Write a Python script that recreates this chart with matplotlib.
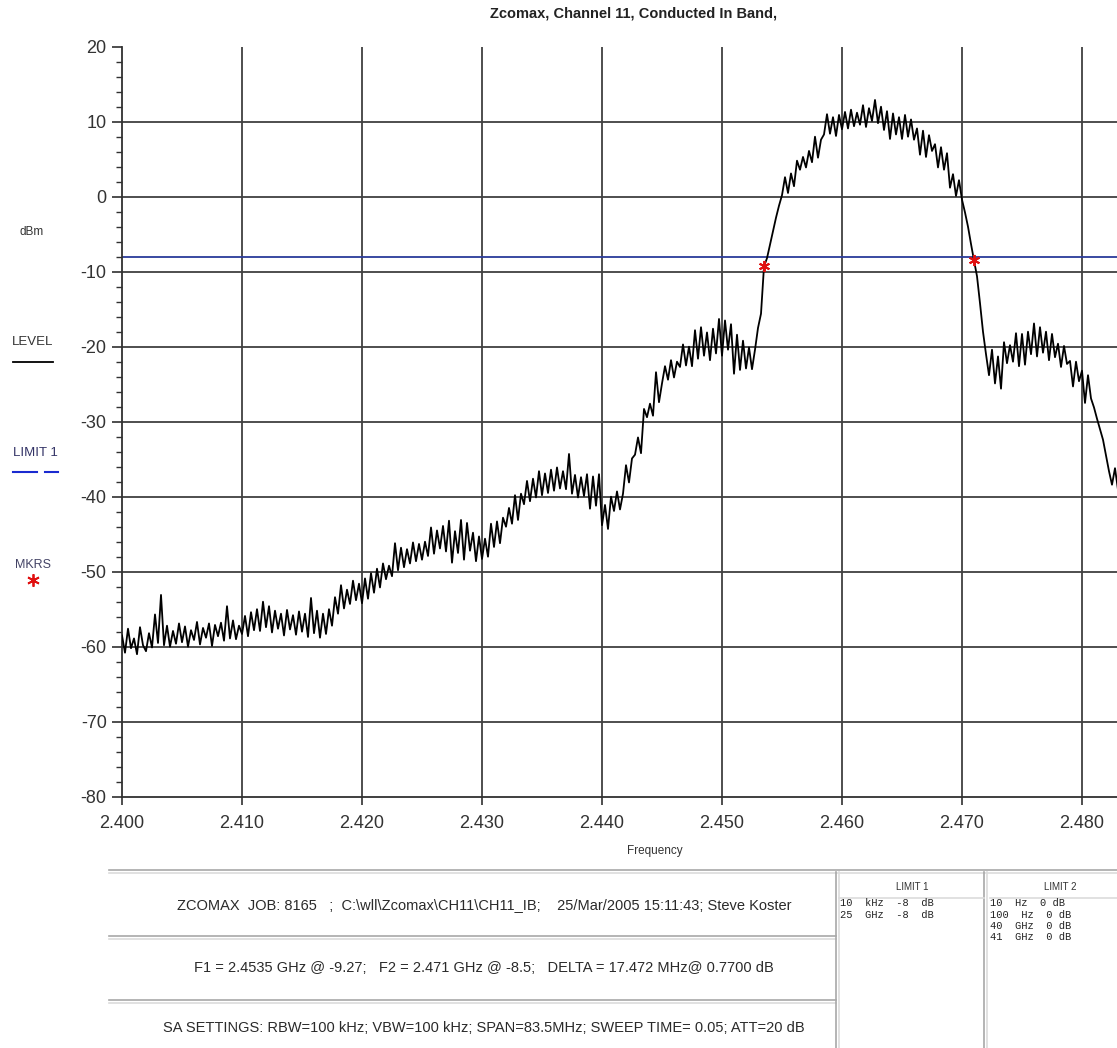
import numpy as np
import matplotlib.pyplot as plt
from matplotlib.lines import Line2D

# sweep settings
f_start = 2.400
f_stop = 2.4835

# trace level (dBm), one value every 0.25 MHz
lvl_00 = [-58.5, -60.8, -57.6, -60.2, -58.9, -61.0, -57.4, -59.8, -60.6, -58.2,
          -60.1, -55.7, -59.5, -53.1, -59.8, -57.2, -60.0, -57.9, -59.6, -56.9]
lvl_05 = [-59.4, -57.3, -60.0, -57.8, -59.1, -56.7, -59.7, -57.5, -58.8, -56.9,
          -59.9, -57.1, -58.6, -56.8, -59.2, -54.6, -58.9, -56.5, -59.0, -57.2]
lvl_10 = [-58.3, -55.9, -58.6, -55.4, -57.8, -55.0, -57.9, -54.0, -57.4, -54.6,
          -58.1, -55.2, -57.6, -55.6, -58.5, -55.1, -57.7, -55.8, -58.4, -55.3]
lvl_15 = [-58.0, -55.6, -58.7, -53.5, -58.2, -55.2, -58.8, -55.6, -58.3, -55.0,
          -57.2, -53.4, -55.6, -51.8, -54.9, -52.4, -54.3, -51.2, -53.8, -51.6]
lvl_20 = [-54.2, -50.9, -53.6, -50.2, -52.8, -49.6, -52.1, -48.9, -51.0, -49.2,
          -50.6, -46.2, -49.8, -46.8, -49.4, -47.0, -48.9, -46.1, -48.6, -46.3]
lvl_25 = [-48.4, -46.0, -47.9, -44.1, -47.6, -44.5, -46.9, -43.9, -47.3, -43.2,
          -48.8, -44.6, -47.5, -43.1, -48.4, -43.5, -47.2, -44.8, -48.6, -45.3]
lvl_30 = [-48.3, -45.6, -48.0, -43.6, -46.7, -43.3, -46.2, -42.8, -44.0, -41.5,
          -43.6, -39.8, -43.1, -39.6, -41.0, -37.9, -40.6, -37.6, -40.1, -36.6]
lvl_35 = [-39.8, -36.9, -39.5, -36.4, -39.2, -36.1, -38.9, -36.6, -39.0, -34.3,
          -39.6, -37.1, -40.1, -37.4, -39.9, -37.0, -41.6, -37.3, -41.2, -37.0]
lvl_40 = [-43.8, -41.1, -44.3, -40.0, -41.9, -39.3, -41.7, -39.6, -35.8, -38.1,
          -34.9, -34.4, -32.1, -34.2, -28.3, -29.4, -27.6, -29.2, -23.4, -27.4]
lvl_45 = [-24.9, -22.6, -24.4, -21.8, -24.1, -22.0, -22.7, -19.7, -22.5, -20.0,
          -22.6, -17.8, -21.6, -17.4, -21.2, -18.1, -21.8, -17.6, -20.9, -16.3]
lvl_50 = [-21.2, -16.5, -20.4, -17.0, -23.6, -18.4, -23.1, -19.2, -22.9, -20.1,
          -23.0, -20.4, -17.5, -15.6, -9.3, -8.2, -6.4, -4.6, -2.8, -1.2]
lvl_55 = [0.2, 2.6, 0.5, 3.1, 1.4, 4.8, 3.6, 5.3, 3.9, 6.1,
          4.6, 8.0, 5.2, 7.6, 8.3, 11.0, 8.4, 10.6, 8.1, 10.9]
lvl_60 = [9.0, 11.3, 9.1, 11.6, 9.4, 11.2, 9.6, 12.2, 9.3, 11.8,
          10.1, 12.9, 9.8, 12.0, 8.9, 11.4, 7.7, 11.1, 8.3, 10.6]
lvl_65 = [7.7, 10.9, 8.0, 10.3, 7.6, 9.1, 5.6, 8.8, 5.3, 8.2,
          6.1, 7.0, 3.9, 6.6, 3.6, 5.8, 1.2, 3.0, 0.1, 2.2]
lvl_70 = [-0.4, -2.1, -4.0, -6.3, -8.5, -10.6, -14.2, -18.0, -21.0, -23.8,
          -20.4, -24.9, -21.3, -25.6, -19.4, -22.2, -19.8, -22.0, -18.2, -22.6]
lvl_75 = [-18.3, -22.4, -18.0, -21.0, -16.9, -21.3, -17.4, -20.8, -18.0, -21.8,
          -18.3, -21.4, -19.6, -22.7, -19.9, -22.3, -21.9, -25.3, -22.0, -24.6]
lvl_80 = [-23.2, -27.5, -23.8, -26.9, -28.1, -29.6, -31.0, -32.4, -34.5, -36.6,
          -38.4, -36.2, -39.1, -37.0, -39.5]

level = np.array(lvl_00 + lvl_05 + lvl_10 + lvl_15 + lvl_20 + lvl_25 + lvl_30 + lvl_35
                 + lvl_40 + lvl_45 + lvl_50 + lvl_55 + lvl_60 + lvl_65 + lvl_70 + lvl_75 + lvl_80)
freq = np.linspace(f_start, f_stop, len(level))

limit1 = -8.0
mkr_f = [2.4535, 2.471]
mkr_db = [-9.27, -8.5]

xticks = [2.400, 2.410, 2.420, 2.430, 2.440, 2.450, 2.460, 2.470, 2.480]
yticks = [-80, -70, -60, -50, -40, -30, -20, -10, 0, 10, 20]

title = "Zcomax, Channel 11, Conducted In Band,"
info_rows = [
    "ZCOMAX  JOB: 8165   ;  C:\\wll\\Zcomax\\CH11\\CH11_IB;    25/Mar/2005 15:11:43; Steve Koster",
    "F1 = 2.4535 GHz @ -9.27;   F2 = 2.471 GHz @ -8.5;   DELTA = 17.472 MHz@ 0.7700 dB",
    "SA SETTINGS: RBW=100 kHz; VBW=100 kHz; SPAN=83.5MHz; SWEEP TIME= 0.05; ATT=20 dB",
]
limit1_rows = ["10  kHz  -8  dB", "25  GHz  -8  dB"]
limit2_rows = ["10  Hz  0 dB", "100  Hz  0 dB", "40  GHz  0 dB", "41  GHz  0 dB"]

W, H = 1117, 1048
plt.rcParams['font.family'] = ['Liberation Sans', 'DejaVu Sans']
plt.rcParams['axes.unicode_minus'] = False
fig = plt.figure(figsize=(W / 100, H / 100), dpi=100)


def fx(x):
    return x / W


def fy(y):
    return 1 - y / H


# plot area: 2.400 at x=122 px, 12 px per MHz; 20 dBm at y=46.7, 7.5 px per dB
ax = fig.add_axes([fx(122), fy(796.7), 1002 / W, 750 / H])
ax.set_xlim(f_start, f_stop)
ax.set_ylim(-80, 20)

grid_c = '#404040'
ax.vlines(xticks[1:], -80, 20, color=grid_c, lw=1.3, zorder=1)
ax.hlines(yticks[1:-1], f_start, f_stop, color=grid_c, lw=1.3, zorder=1)

ax.plot(freq, level, color='black', lw=1.3, zorder=3)
ax.axhline(limit1, color='#2a3a9a', lw=1.3, zorder=2)
ax.plot(mkr_f, mkr_db, ls='none', marker=(6, 2, 0), ms=8, mew=1.4, color='#e01010', zorder=4)

for s in ['top', 'right']:
    ax.spines[s].set_visible(False)
for s in ['left', 'bottom']:
    ax.spines[s].set_color('#303030')
    ax.spines[s].set_linewidth(1.3)

ax.set_xticks(xticks)
ax.set_xticklabels(['%.3f' % t for t in xticks])
ax.set_yticks(yticks)
ax.set_yticks(np.arange(-80, 21, 2), minor=True)
ax.tick_params(axis='both', which='major', labelsize=13, labelcolor='#333333',
               color='#303030', direction='out')
ax.tick_params(axis='y', which='major', length=7, width=1.2, pad=4)
ax.tick_params(axis='y', which='minor', length=4, width=1.0, color='#303030')
ax.tick_params(axis='x', which='major', length=6, width=1.2, pad=7)

# title and axis label
fig.text(fx(634), fy(14), title, ha='center', va='center', fontsize=10.5,
         fontweight='bold', color='#222222',
         family=['Liberation Sans Narrow', 'Liberation Sans', 'DejaVu Sans'])
fig.text(fx(655), fy(851), "Frequency", ha='center', va='center', fontsize=8.5, color='#333333')

# left side legend
fig.text(fx(32), fy(232), "dBm", ha='center', va='center', fontsize=8.5, color='#333333')
fig.text(fx(33), fy(342), "LEVEL", ha='center', va='center', fontsize=9.5, color='#333333')
fig.add_artist(Line2D([fx(13), fx(53)], [fy(362), fy(362)], color='black', lw=1.3))
fig.text(fx(35), fy(453), "LIMIT 1", ha='center', va='center', fontsize=9.5, color='#333366')
fig.add_artist(Line2D([fx(13), fx(37)], [fy(472), fy(472)], color='#1a2ad0', lw=1.5))
fig.add_artist(Line2D([fx(45), fx(58)], [fy(472), fy(472)], color='#1a2ad0', lw=1.5))
fig.text(fx(33), fy(565), "MKRS", ha='center', va='center', fontsize=9, color='#444466')
fig.add_artist(Line2D([fx(33)], [fy(580)], ls='none', marker=(6, 2, 0), ms=9, mew=1.3,
                      color='#e01010'))

# info table at the bottom
dark = '#a8a8a8'
light = '#dcdcdc'


def hline(x0, x1, y, c=dark, lw=1.2):
    fig.add_artist(Line2D([fx(x0), fx(x1)], [fy(y), fy(y)], color=c, lw=lw))


def vline(x, y0, y1, c=dark, lw=1.2):
    fig.add_artist(Line2D([fx(x), fx(x)], [fy(y0), fy(y1)], color=c, lw=lw))


hline(109, W, 870)
hline(109, W, 872.5, light)
for y in [936, 1000]:
    hline(109, 836, y)
    hline(109, 836, y + 2.5, light)
for x in [836, 984]:
    vline(x, 872, H)
    vline(x + 3, 872, H, light)
hline(839, 984, 898, light)
hline(990, W, 898, light)

row_y = [905, 968, 1028]
for txt, y in zip(info_rows, row_y):
    fig.text(fx(484), fy(y), txt, ha='center', va='center', fontsize=10.5, color='#2a2a2a')

fig.text(fx(912), fy(887), "LIMIT 1", ha='center', va='center', fontsize=7, color='#333333')
fig.text(fx(1060), fy(887), "LIMIT 2", ha='center', va='center', fontsize=7, color='#333333')
for i, t in enumerate(limit1_rows):
    fig.text(fx(840), fy(903 + i * 11.5), t, ha='left', va='center', fontsize=7.5,
             family='Liberation Mono', color='#222222')
for i, t in enumerate(limit2_rows):
    fig.text(fx(990), fy(903 + i * 11.5), t, ha='left', va='center', fontsize=7.5,
             family='Liberation Mono', color='#222222')

fig.savefig('out.png', dpi=100)
